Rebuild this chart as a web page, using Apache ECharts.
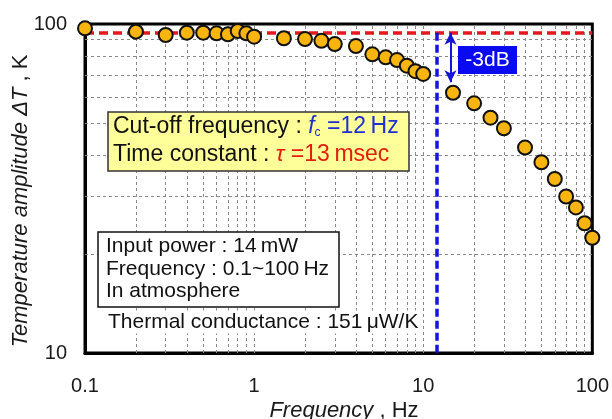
<!DOCTYPE html>
<html>
<head>
<meta charset="utf-8">
<script src="https://cdn.jsdelivr.net/npm/echarts@6/dist/echarts.min.js"></script>
<style>
  html, body { margin: 0; padding: 0; background: #ffffff; }
  #chart { width: 612px; height: 419px; }
</style>
</head>
<body>
<div id="chart"></div>
<script>
// Measured frequency response of the temperature amplitude
const freqHz = [0.1, 0.2, 0.3, 0.4, 0.5, 0.6, 0.7, 0.8, 0.9, 1,
                1.5, 2, 2.5, 3, 4, 5, 6, 7, 8, 9, 10,
                15, 20, 25, 30, 40, 50, 60, 70, 80, 90, 100];
const amplitudeK = [97.0, 94.8, 92.6, 94.1, 94.1, 93.7, 93.0, 95.2, 93.7, 91.5,
                    90.5, 90.0, 88.9, 86.9, 85.7, 80.9, 79.2, 77.7, 74.7, 71.9, 70.5,
                    61.8, 57.4, 51.9, 48.2, 42.1, 38.0, 33.8, 29.9, 27.7, 24.8, 22.4];

// Axis ticks and grid positions
const xTickLabels = ['0.1', '1', '10', '100'];
const yTickLabels = ['10', '100'];
const xGridValues = [0.2, 0.3, 0.4, 0.5, 0.6, 0.7, 0.8, 0.9, 1,
                     2, 3, 4, 5, 6, 7, 8, 9, 10,
                     20, 30, 40, 50, 60, 70, 80, 90];
const yGridValues = [20, 30, 40, 50, 60, 70, 80, 90];

// Low-frequency level, cut-off and the -3 dB point
const referenceLevelK = 94;
const cutoffHz = 12;
const arrowHz = 14.5;
const minus3dBLevelK = 66.5;

const FONT = '"Liberation Sans", Arial, Helvetica, sans-serif';
const chart = echarts.init(document.getElementById('chart'), null, { renderer: 'canvas' });

const points = freqHz.map((f, i) => [f, amplitudeK[i]]);
const gridStyle = { color: '#8a8a8a', width: 1, type: [3, 3] };

const option = {
  animation: false,
  backgroundColor: '#ffffff',
  grid: {
    left: 85, right: 19, top: 24, bottom: 66,
    show: true, borderColor: '#000000', borderWidth: 3, backgroundColor: 'transparent'
  },
  xAxis: {
    type: 'log', logBase: 10, min: 0.1, max: 100,
    axisLine: { show: true, lineStyle: { color: '#000', width: 3 } },
    axisTick: { show: false },
    splitLine: { show: false },
    axisLabel: {
      margin: 23, fontSize: 20, color: '#1a1a1a', fontFamily: FONT,
      formatter: v => {
        const s = xTickLabels.find(t => Math.abs(parseFloat(t) - v) < 1e-9 * Math.max(1, v));
        return s || '';
      }
    }
  },
  yAxis: {
    type: 'log', logBase: 10, min: 10, max: 100,
    axisLine: { show: true, lineStyle: { color: '#000', width: 3 } },
    axisTick: { show: false },
    splitLine: { show: false },
    axisLabel: {
      margin: 18, fontSize: 20, color: '#1a1a1a', fontFamily: FONT,
      formatter: v => {
        const s = yTickLabels.find(t => Math.abs(parseFloat(t) - v) < 1e-6);
        return s || '';
      }
    }
  },
  series: [
    {
      // dotted grid on log paper
      name: 'grid', type: 'line', data: [], z: 1, silent: true,
      markLine: {
        silent: true, symbol: 'none', label: { show: false },
        lineStyle: gridStyle, animation: false,
        data: xGridValues.map(v => ({ xAxis: v }))
          .concat(yGridValues.map(v => ({ yAxis: v })))
      }
    },
    {
      // reference level and cut-off marker
      name: 'guides', type: 'line', data: [], z: 3, silent: true,
      markLine: {
        silent: true, symbol: 'none', label: { show: false }, animation: false,
        data: [
          { yAxis: referenceLevelK, lineStyle: { color: '#e8161e', width: 3.5, type: [9, 5] } },
          [
            { coord: [cutoffHz, referenceLevelK], lineStyle: { color: '#1414dc', width: 3.5, type: [8, 4] } },
            { coord: [cutoffHz, 10] }
          ]
        ]
      }
    },
    {
      // -3 dB double arrow
      name: 'arrow', type: 'line', data: [], z: 4, silent: true,
      markLine: {
        silent: true, symbol: ['arrow', 'arrow'], symbolSize: [9, 12],
        label: { show: false }, animation: false,
        lineStyle: { color: '#1414dc', width: 2, type: 'solid' },
        data: [[
          { coord: [arrowHz, referenceLevelK] },
          { coord: [arrowHz, minus3dBLevelK] }
        ]]
      }
    },
    {
      name: 'ΔT', type: 'scatter', data: points, z: 6, clip: false,
      symbol: 'circle', symbolSize: 14,
      itemStyle: { color: '#f9b50f', borderColor: '#111111', borderWidth: 2, opacity: 1 }
    }
  ],
  graphic: [
    {
      type: 'text', z: 10, x: 344, y: 411,
      style: {
        text: '{i|Frequency} , Hz',
        align: 'center', verticalAlign: 'middle',
        font: '22px ' + FONT, fill: '#1a1a1a',
        rich: { i: { fontStyle: 'italic', fontSize: 22, fontFamily: FONT, fill: '#1a1a1a' } }
      }
    },
    {
      type: 'text', z: 10, x: 21, y: 201, rotation: Math.PI / 2,
      style: {
        text: '{i|Temperature amplitude \u0394T} , K',
        align: 'center', verticalAlign: 'middle',
        font: '22px ' + FONT, fill: '#1a1a1a',
        rich: { i: { fontStyle: 'italic', fontSize: 22, fontFamily: FONT, fill: '#1a1a1a' } }
      }
    },
    // cut-off / time constant box
    {
      type: 'rect', z: 8,
      shape: { x: 108, y: 112, width: 301, height: 59 },
      style: { fill: '#ffff99', stroke: '#333333', lineWidth: 1.5 }
    },
    {
      type: 'text', z: 9, x: 113, y: 127,
      style: {
        text: '{k|Cut-off frequency : }{fi|f}{sub|c}{b| =12\u2009Hz}',
        verticalAlign: 'middle', font: '23px ' + FONT, fill: '#111',
        rich: {
          k: { fontSize: 23, fontFamily: FONT, fill: '#111' },
          fi: { fontSize: 23, fontFamily: FONT, fontStyle: 'italic', fill: '#1f2fd0' },
          sub: { fontSize: 12, fontFamily: FONT, fill: '#1f2fd0', verticalAlign: 'bottom', padding: [7, 0, 0, 0] },
          b: { fontSize: 23, fontFamily: FONT, fill: '#1f2fd0' }
        }
      }
    },
    {
      type: 'text', z: 9, x: 113, y: 155,
      style: {
        text: '{k|Time constant : }{t|\u03c4}{r| =13\u2009msec}',
        verticalAlign: 'middle', font: '23px ' + FONT, fill: '#111',
        rich: {
          k: { fontSize: 23, fontFamily: FONT, fill: '#111' },
          t: { fontSize: 23, fontFamily: FONT, fontStyle: 'italic', fill: '#e0200f' },
          r: { fontSize: 23, fontFamily: FONT, fill: '#e0200f' }
        }
      }
    },
    // measurement conditions box
    {
      type: 'rect', z: 8,
      shape: { x: 98, y: 232, width: 241, height: 75 },
      style: { fill: '#ffffff', stroke: '#111111', lineWidth: 1.5 }
    },
    {
      type: 'text', z: 9, x: 106, y: 235,
      style: {
        text: 'Input power : 14\u2009mW\nFrequency : 0.1~100\u2009Hz\nIn atmosphere',
        verticalAlign: 'top', lineHeight: 22.5, font: '21px ' + FONT, fill: '#111'
      }
    },
    {
      type: 'text', z: 9, x: 104, y: 322,
      style: {
        text: 'Thermal conductance : 151\u2009\u03bcW/K',
        verticalAlign: 'middle', font: '21px ' + FONT, fill: '#111',
        backgroundColor: '#ffffff', padding: [1, 4, 1, 4]
      }
    },
    // -3 dB tag
    {
      type: 'rect', z: 8,
      shape: { x: 458, y: 46, width: 59, height: 28 },
      style: { fill: '#0a0af0' }
    },
    {
      type: 'text', z: 9, x: 487.5, y: 60,
      style: {
        text: '-3dB', align: 'center', verticalAlign: 'middle',
        font: '21px ' + FONT, fill: '#ffffff'
      }
    }
  ]
};

chart.setOption(option);
</script>
</body>
</html>
